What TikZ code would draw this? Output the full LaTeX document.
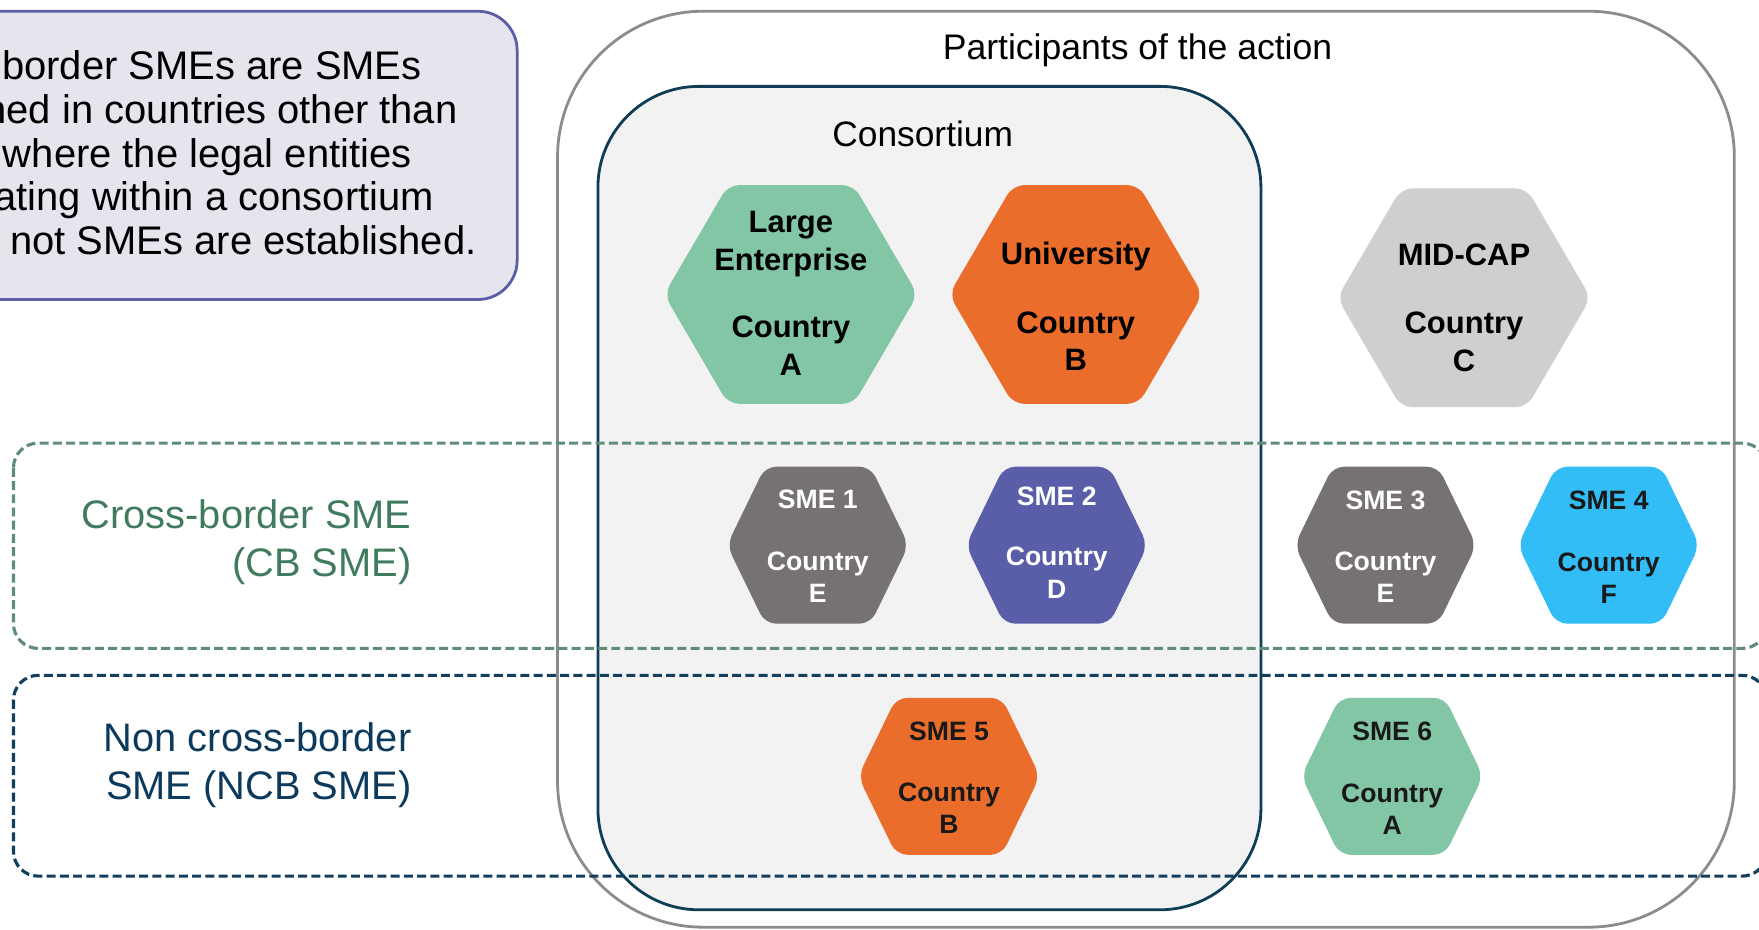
\documentclass[tikz,border=0pt]{standalone}
\usepackage{fontspec}
\setmainfont{Liberation Sans}
\newcommand\fs[2]{\fontsize{#1}{#2}\selectfont}
\definecolor{infofill}{HTML}{E6E5EE}
\definecolor{infodraw}{HTML}{5B5EA7}
\definecolor{outerdraw}{HTML}{8C8C8C}
\definecolor{consfill}{HTML}{F2F2F2}
\definecolor{consdraw}{HTML}{0E3D55}
\definecolor{cbdraw}{HTML}{5F8D78}
\definecolor{cbtext}{HTML}{3F7B5C}
\definecolor{ncbdraw}{HTML}{133F5E}
\definecolor{ncbtext}{HTML}{0C3A5C}
\definecolor{mint}{HTML}{83C6A5}
\definecolor{orange}{HTML}{EB6D2B}
\definecolor{lgray}{HTML}{D0CFD0}
\definecolor{dgray}{HTML}{767271}
\definecolor{purple}{HTML}{5A5EA8}
\definecolor{sky}{HTML}{33BDF6}
% cx cy halfwidth halftop halfheight colour
\newcommand\hexshape[6]{\fill[#6, rounded corners=10pt] ({#1-#3},#2) -- ({#1-#4},{#2-#5}) -- ({#1+#4},{#2-#5}) -- ({#1+#3},#2) -- ({#1+#4},{#2+#5}) -- ({#1-#4},{#2+#5}) -- cycle;}
\begin{document}
\begin{tikzpicture}[x=1pt,y=-1pt,line join=round,
  band/.style={line width=2.8pt, dash pattern=on 8pt off 3.8pt, rounded corners=22pt},
  bigtext/.style={font=\bfseries\fs{27.6}{33.5}, align=center, inner sep=0pt, anchor=north},
  smetext/.style={font=\bfseries\fs{23.7}{29}, align=center, inner sep=0pt, anchor=north, text=black!90},
  infotext/.style={font=\fs{35.6}{39}, anchor=base east, inner sep=0pt},
  sidetext/.style={font=\fs{35.5}{43}, align=right, anchor=north east, inner sep=0pt}]
\useasboundingbox (0,0) rectangle (1568,829);
% info box
\draw[fill=infofill, draw=infodraw, line width=2.5pt, rounded corners=35pt] (-60,10) rectangle (461,267);
\node[infotext] (info1) at (376,71) {border SMEs are SMEs};
\node[infotext] (info2) at (408,110) {hed in countries other than};
\node[infotext] (info3) at (367,149) {where the legal entities};
\node[infotext] (info4) at (387,188) {ating within a consortium};
\node[infotext] (info5) at (425,227) {not SMEs are established.};
% participants box
\draw[draw=outerdraw, line width=2.5pt, rounded corners=130pt] (497,10) rectangle (1546,826.5);
\node[font=\fs{31.7}{38}, anchor=base, inner sep=0pt] (participants) at (1014,53) {Participants of the action};
% consortium box
\draw[fill=consfill, draw=consdraw, line width=2.5pt, rounded corners=90pt] (533,77) rectangle (1124,811);
\node[font=\fs{31.5}{38}, anchor=base, inner sep=0pt] (consortium) at (822.5,131) {Consortium};
% bands
\draw[band, draw=cbdraw] (12,395) rectangle (1575,578);
\draw[band, draw=ncbdraw] (12,602) rectangle (1575,781);
\node[sidetext, text=cbtext] (cblabel) at (367,445) {Cross-border SME\\(CB SME)};
\node[sidetext, text=ncbtext] (ncblabel) at (367,644) {Non cross-border\\SME (NCB SME)};
% large hexagons
\hexshape{705}{262.5}{113}{56}{97.5}{mint}
\hexshape{959}{262.5}{113}{56}{97.5}{orange}
\hexshape{1305}{265.5}{113}{56}{97.5}{lgray}
\node[bigtext] (le) at (705,188) {Large\\Enterprise\\[27pt]Country\\A};
\node[bigtext] (uni) at (959,216) {University\\[27.5pt]Country\\B};
\node[bigtext] (mid) at (1305,217) {MID-CAP\\[27.5pt]Country\\C};
% SME hexagons
\hexshape{729}{486}{81}{47}{70}{dgray}
\hexshape{942}{486}{81}{47}{70}{purple}
\hexshape{1235}{486}{81}{47}{70}{dgray}
\hexshape{1434}{486}{81}{47}{70}{sky}
\hexshape{846}{692}{81}{47}{70}{orange}
\hexshape{1241}{692}{81}{47}{70}{mint}
\node[smetext, text=white] (sme1) at (729,436.5) {SME 1\\[26pt]Country\\E};
\node[smetext, text=white] (sme2) at (942,433.5) {SME 2\\[25pt]Country\\D};
\node[smetext, text=white] (sme3) at (1235,437.5) {SME 3\\[25pt]Country\\E};
\node[smetext] (sme4) at (1434,437.5) {SME 4\\[26pt]Country\\F};
\node[smetext] (sme5) at (846,643.5) {SME 5\\[25pt]Country\\B};
\node[smetext] (sme6) at (1241,643.5) {SME 6\\[26pt]Country\\A};
\end{tikzpicture}
\end{document}
